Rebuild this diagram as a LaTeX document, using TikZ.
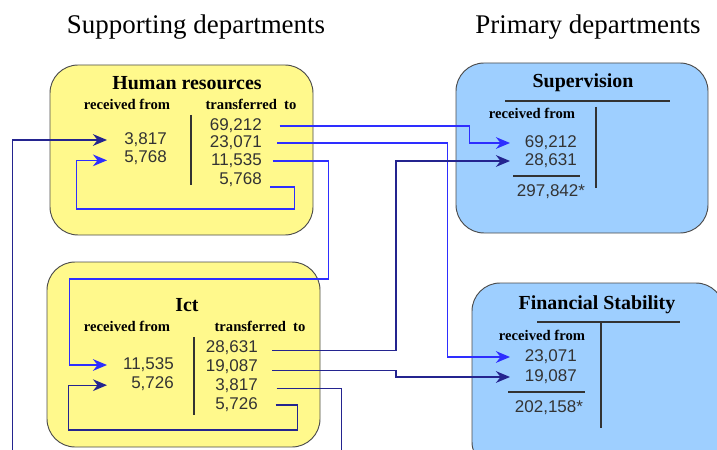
\documentclass[tikz,border=0pt]{standalone}
\usepackage{fontspec}
\setmainfont{Liberation Serif}
\newfontfamily\numfont{Liberation Sans}
\usepackage{xcolor}
\usetikzlibrary{arrows.meta,positioning,fit}
\definecolor{suppyellow}{HTML}{FFF98C}
\definecolor{primblue}{HTML}{9ECFFF}
\definecolor{flowblue}{HTML}{2E2EFF}
\definecolor{flownavy}{HTML}{24248F}
\tikzset{
  deptbox/.style={draw=black!70, rounded corners=24pt, inner sep=0pt, line width=0.8pt},
  suppbox/.style={deptbox, fill=suppyellow},
  primbox/.style={deptbox, fill=primblue},
  heading/.style={font=\fontsize{23}{26}\selectfont},
  boxtitle/.style={font=\bfseries\fontsize{17}{20}\selectfont},
  colhead/.style={font=\bfseries\fontsize{12.5}{14}\selectfont},
  amount/.style={font=\numfont\fontsize{14.5}{16}\selectfont, text=black!80, anchor=east, inner sep=0pt},
  divider/.style={line width=1pt, black!80},
  flowlight/.style={-{Stealth[length=12pt,width=10pt]}, line width=1.1pt, flowblue},
  flowdark/.style={-{Stealth[length=12pt,width=10pt]}, line width=1.1pt, flownavy}
}

\begin{document}
\begin{tikzpicture}[x=0.03cm, y=-0.03cm]
  \useasboundingbox (0,0) rectangle (717,450);
  \clip (0,0) rectangle (717,450);

  % column headings
  \node[heading] (supp) at (196,27) {Supporting departments};
  \node[heading] (prim) at (588,27) {Primary departments};

  % boxes
  \node[suppbox, fit={(50,65) (313,235)}] (hr) {};
  \node[suppbox, fit={(47,262) (320,447)}] (ict) {};
  \node[primbox, fit={(456,63) (708,233)}] (sup) {};
  \node[primbox, fit={(472,283) (724,470)}] (fs) {};

  % arrow columns
  \coordinate (inL) at (107,0);
  \coordinate (inR) at (510,0);

  % Human resources
  \node[boxtitle] (hr-title) at (187,83) {Human resources};
  \node[colhead] (hr-rec) at (127,104) {received from};
  \node[colhead] (hr-tra) at (251,104) {transferred\ \ to};
  \draw[divider] (191,115) -- (191,185);
  \node[amount] (hr-r1) at (167,140) {3,817};
  \node[amount] (hr-r2) at (167,158) {5,768};
  \node[amount] (hr-t1) at (262,126) {69,212};
  \node[amount] (hr-t2) at (262,143) {23,071};
  \node[amount] (hr-t3) at (262,161) {11,535};
  \node[amount] (hr-t4) at (262,180) {5,768};

  % Ict
  \node[boxtitle] (ict-title) at (187,305) {Ict};
  \node[colhead] (ict-rec) at (127,326) {received from};
  \node[colhead] (ict-tra) at (260,326) {transferred\ \ to};
  \draw[divider] (194,337) -- (194,415);
  \node[amount] (ict-r1) at (174,365) {11,535};
  \node[amount] (ict-r2) at (174,384) {5,726};
  \node[amount] (ict-t1) at (258,348) {28,631};
  \node[amount] (ict-t2) at (258,367) {19,087};
  \node[amount] (ict-t3) at (258,386) {3,817};
  \node[amount] (ict-t4) at (258,405) {5,726};

  % Supervision
  \node[boxtitle] (sup-title) at (583,83) {Supervision};
  \draw[divider] (505,101) -- (670,101);
  \node[colhead] (sup-rec) at (532,113) {received from};
  \draw[divider] (596,107) -- (596,188);
  \node[amount] (sup-r1) at (577,143) {69,212};
  \node[amount] (sup-r2) at (577,161) {28,631};
  \draw[divider] (513,176) -- (580,176);
  \node[amount, anchor=center] (sup-sum) at (551,192) {297,842*};

  % Financial Stability
  \node[boxtitle] (fs-title) at (597,305) {Financial Stability};
  \draw[divider] (537,322) -- (680,322);
  \node[colhead] (fs-rec) at (542,335) {received from};
  \draw[divider] (601,322) -- (601,428);
  \node[amount] (fs-r1) at (577,357) {23,071};
  \node[amount] (fs-r2) at (577,377) {19,087};
  \draw[divider] (508,392) -- (585,392);
  \node[amount, anchor=center] (fs-sum) at (549,408) {202,158*};

  % flows from Human resources
  \draw[flowlight] ([xshift=15pt]hr-t1.east) -- ++(190,0) |- (sup-r1.west -| inR);
  \draw[flowlight] ([xshift=13pt]hr-t2.east) -- ++(170,0) |- (fs-r1.west -| inR);
  \draw[flowlight] ([xshift=9pt]hr-t3.east) -- ++(56,0) -- ++(0,118) -- ++(-259,0) |- (ict-r1.west -| inL);
  \draw[flowlight] ([xshift=7pt, yshift=-6pt]hr-t4.east) -- ++(24,0) -- ++(0,22) -- ++(-218,0) |- ([yshift=-2pt]hr-r2.west -| inL);

  % flows from Ict
  \draw[flowdark] ([xshift=12pt, yshift=-2pt]ict-t1.east) -- ++(124,0) |- (sup-r2.west -| inR);
  \draw[flowdark] ([xshift=12pt, yshift=-3pt]ict-t2.east) -- ++(124,0) |- (fs-r2.west -| inR);
  \draw[flowdark] ([xshift=16pt, yshift=-2pt]ict-t3.east) -- ++(65,0) -- ++(0,90) -- ++(-329,0) |- (hr-r1.west -| inL);
  \draw[flowdark] ([xshift=15pt]ict-t4.east) -- ++(22,0) -- ++(0,25) -- ++(-229,0) |- ([yshift=-1pt]ict-r2.west -| inL);
\end{tikzpicture}
\end{document}
